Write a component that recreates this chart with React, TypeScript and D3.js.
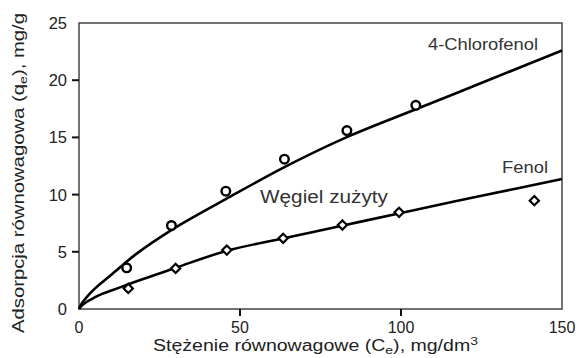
import React from "react";
import * as d3 from "d3";

const W = 580;
const H = 358;

// Measured points: 4-Chlorofenol (circles)
const chloroC = [14.8, 28.7, 45.6, 63.8, 83.2, 104.6];
const chloroQ = [3.6, 7.3, 10.3, 13.1, 15.6, 17.8];
// Fenol (diamonds)
const fenolC = [15.3, 30.0, 45.9, 63.4, 81.8, 99.4, 141.4];
const fenolQ = [1.8, 3.55, 5.15, 6.18, 7.34, 8.45, 9.47];

// Fitted curves
const chloroCurveC = [0, 1, 2, 3.5, 5, 7, 9.4, 13.6, 17.7, 28.7, 45.6, 63.8, 83, 105, 128, 150];
const chloroCurveQ = [0, 0.55, 0.9, 1.38, 1.8, 2.3, 2.85, 3.85, 4.8, 6.9, 9.6, 12.4, 15.0, 17.5, 20.1, 22.6];
const fenolCurveC = [0, 1, 2, 3.5, 5, 7, 9.4, 13.6, 17.7, 30, 46, 64, 82, 100, 125, 150];
const fenolCurveQ = [0, 0.34, 0.55, 0.8, 1.03, 1.3, 1.55, 1.98, 2.4, 3.6, 5.1, 6.2, 7.3, 8.4, 9.9, 11.36];

const xTicks = [0, 50, 100, 150];
const yTicks = [0, 5, 10, 15, 20, 25];

const FONT = "'Liberation Sans', Arial, sans-serif";

export default function App() {
  const x = d3.scaleLinear().domain([0, 150]).range([79, 562]);
  const y = d3.scaleLinear().domain([0, 25]).range([309, 23]);
  const line = d3
    .line<[number, number]>()
    .x((d) => x(d[0]))
    .y((d) => y(d[1]))
    .curve(d3.curveCatmullRom.alpha(0.5));

  const chloroCurve = line(chloroCurveC.map((c, i) => [c, chloroCurveQ[i]]) as [number, number][]) || "";
  const fenolCurve = line(fenolCurveC.map((c, i) => [c, fenolCurveQ[i]]) as [number, number][]) || "";

  const axisColor = "#444";
  const textColor = "#222";

  return (
    <svg
      width={W}
      height={H}
      style={{ position: "absolute", left: 0, top: 0, background: "#fff" }}
      fontFamily={FONT}
    >
      {/* frame */}
      <rect
        x={x(0)}
        y={y(25)}
        width={x(150) - x(0)}
        height={y(0) - y(25)}
        fill="none"
        stroke={axisColor}
        strokeWidth={1.5}
      />
      {/* y ticks */}
      {yTicks.map((t) => (
        <g key={"y" + t}>
          {t !== 0 && t !== 25 && (
            <line x1={x(0) - 7} x2={x(0)} y1={y(t)} y2={y(t)} stroke="#111" strokeWidth={2} />
          )}
          <text
            x={67}
            y={y(t)}
            dy="0.36em"
            textAnchor="end"
            fontSize={16.5}
            fill={textColor}
          >
            {t}
          </text>
        </g>
      ))}
      {/* x ticks */}
      {xTicks.map((t) => (
        <g key={"x" + t}>
          {t !== 0 && t !== 150 && (
            <line x1={x(t)} x2={x(t)} y1={y(0)} y2={y(0) + 7} stroke="#111" strokeWidth={2} />
          )}
          <text x={x(t)} y={332.5} textAnchor="middle" fontSize={16} fill={textColor}>
            {t}
          </text>
        </g>
      ))}
      {/* axis titles */}
      <text
        x={153}
        y={350.5}
        fontSize={16}
        fill={textColor}
        textLength={325}
        lengthAdjust="spacingAndGlyphs"
      >
        Stężenie równowagowe (C
        <tspan fontSize={11.5} dy={3}>e</tspan>
        <tspan dy={-3}>), mg/dm</tspan>
        <tspan fontSize={11.5} dy={-6}>3</tspan>
      </text>
      <text
        transform={`translate(24,333) rotate(-90)`}
        fontSize={16.5}
        fill={textColor}
        textLength={320}
        lengthAdjust="spacingAndGlyphs"
      >
        Adsorpcja równowagowa (q
        <tspan fontSize={11.5} dy={3}>e</tspan>
        <tspan dy={-3}>), mg/g</tspan>
      </text>

      {/* curves */}
      <path d={chloroCurve} fill="none" stroke="#000" strokeWidth={2.6} />
      <path d={fenolCurve} fill="none" stroke="#000" strokeWidth={2.6} />

      {/* markers */}
      {chloroC.map((c, i) => (
        <circle
          key={"c" + i}
          cx={x(c)}
          cy={y(chloroQ[i])}
          r={4.3}
          fill="#fff"
          stroke="#000"
          strokeWidth={2.4}
        />
      ))}
      {fenolC.map((c, i) => {
        const cx = x(c);
        const cy = y(fenolQ[i]);
        const s = 4.6;
        return (
          <path
            key={"f" + i}
            d={`M${cx},${cy - s}L${cx + s},${cy}L${cx},${cy + s}L${cx - s},${cy}Z`}
            fill="#fff"
            stroke="#000"
            strokeWidth={2.2}
          />
        );
      })}

      {/* annotations */}
      <text x={428} y={50} fontSize={17} fill="#333" textLength={110} lengthAdjust="spacingAndGlyphs">
        4-Chlorofenol
      </text>
      <text x={502} y={173} fontSize={17} fill="#333" textLength={46} lengthAdjust="spacingAndGlyphs">
        Fenol
      </text>
      <text x={260} y={203} fontSize={18} fill="#333" textLength={128} lengthAdjust="spacingAndGlyphs">
        Węgiel zużyty
      </text>
    </svg>
  );
}
